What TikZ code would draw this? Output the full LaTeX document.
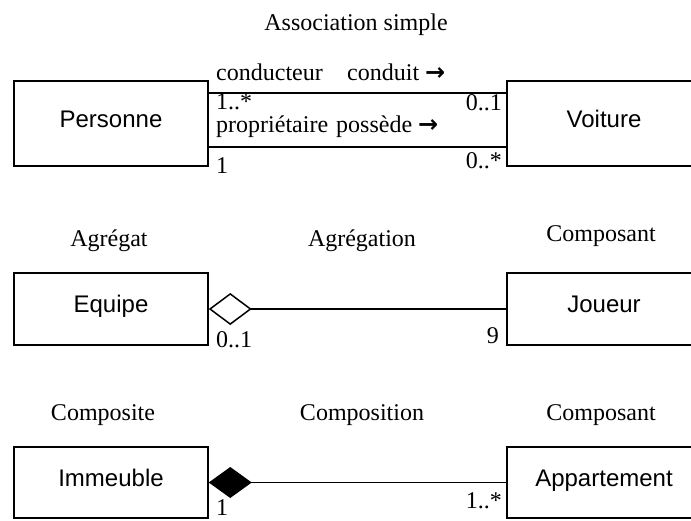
\documentclass[tikz,border=0pt]{standalone}
\usepackage{fontspec}
\setmainfont{Liberation Serif}
\setsansfont{Liberation Sans}
\newfontfamily\flechefont{DejaVu Sans}
\usetikzlibrary{arrows.meta}
\newcommand{\fleche}{{\flechefont\bfseries\fontsize{24}{24}\selectfont →}}
\tikzset{classbox/.style={draw,line width=1.5pt,minimum width=194pt,inner sep=0pt,
    font=\sffamily\fontsize{24}{28}\selectfont,text height=17.2pt,text depth=10pt}}
\tikzset{txt/.style={inner sep=0pt,font=\fontsize{24}{28}\selectfont}}
\tikzset{lien/.style={line width=1.5pt}}

\begin{document}
\begin{tikzpicture}[x=1pt,y=-1pt]
		\useasboundingbox (0,0) rectangle (691,520);
		\node [txt,anchor=base] (titre) at (356,30) {Association simple};
		\node [classbox,minimum height=85pt] (personne) at (111,123.5) {Personne};
		\node [classbox,minimum height=85pt] (voiture) at (604,123.5) {Voiture};
		\draw [lien] ([yshift=30.5pt]personne.east) -- ([yshift=30.5pt]voiture.west);
		\draw [lien] ([yshift=-23.5pt]personne.east) -- ([yshift=-23.5pt]voiture.west);
		\node [txt,anchor=base west] (conducteur) at (216,80) {conducteur};
		\node [txt,anchor=base west] (conduit) at (347,80) {conduit \fleche};
		\node [txt,anchor=base west] (mulA) at (216,109.5) {1..*};
		\node [txt,anchor=base east] (mulB) at (502,110) {0..1};
		\node [txt,anchor=base west] (proprietaire) at (216,132) {propriétaire};
		\node [txt,anchor=base west] (possede) at (336,132) {possède \fleche};
		\node [txt,anchor=base west] (mulC) at (216,173) {1};
		\node [txt,anchor=base east] (mulD) at (502,168) {0..*};
		\node [txt,anchor=base] (agregat) at (109,246) {Agrégat};
		\node [txt,anchor=base] (agregation) at (362,246) {Agrégation};
		\node [txt,anchor=base] (composantA) at (601,241) {Composant};
		\node [classbox,minimum height=72pt] (equipe) at (111,309) {Equipe};
		\node [classbox,minimum height=72pt] (joueur) at (604,309) {Joueur};
		\draw [lien,{Diamond[open,length=43pt,width=32pt]}-] (equipe) -- (joueur);
		\node [txt,anchor=base west] (mulE) at (216,347) {0..1};
		\node [txt,anchor=base east] (mulF) at (499,343) {9};
		\node [txt,anchor=base] (composite) at (103,420) {Composite};
		\node [txt,anchor=base] (composition) at (362,420) {Composition};
		\node [txt,anchor=base] (composantB) at (601,420) {Composant};
		\node [classbox,minimum height=71pt] (immeuble) at (111,482.5) {Immeuble};
		\node [classbox,minimum height=71pt] (appartement) at (604,482.5) {Appartement};
		\draw [lien,{Diamond[length=43pt,width=31pt]}-] (immeuble) -- (appartement);
		\node [txt,anchor=base west] (mulG) at (216,515) {1};
		\node [txt,anchor=base east] (mulH) at (502,508) {1..*};
		\end{tikzpicture}
\end{document}
